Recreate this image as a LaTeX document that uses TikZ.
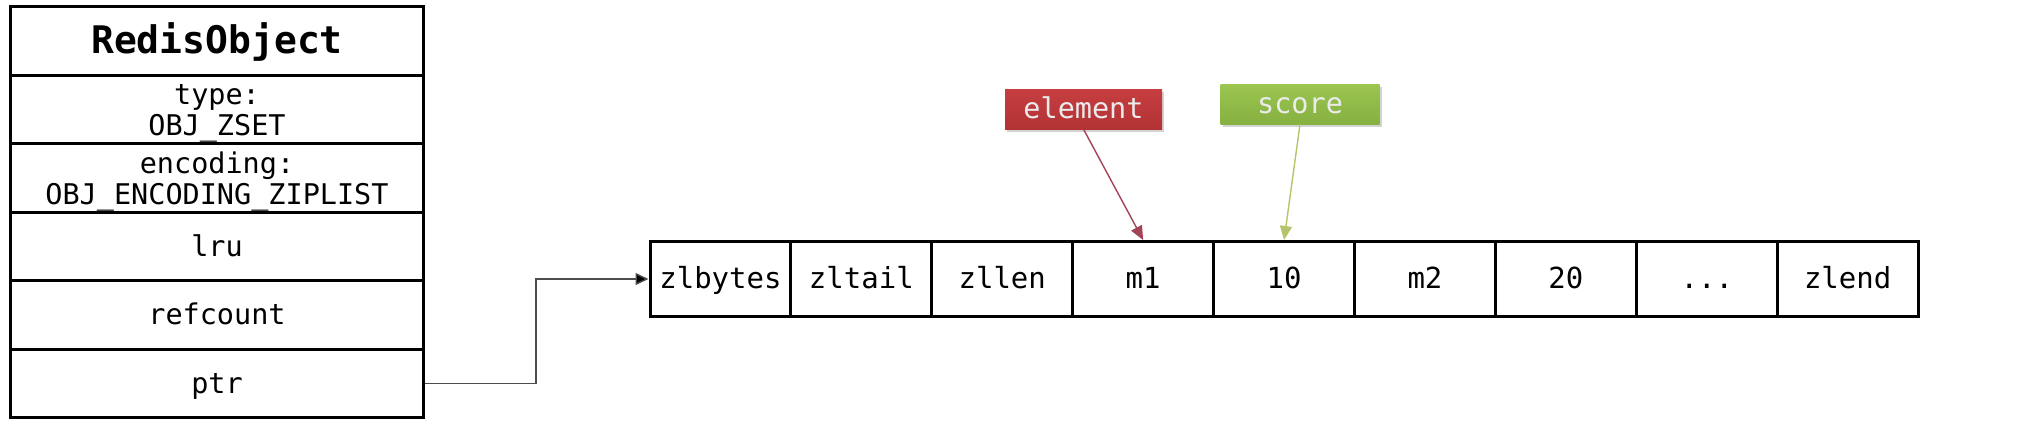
\documentclass[tikz,border=0pt]{standalone}
\usepackage{fontspec}
\setmonofont{DejaVu Sans Mono}
\usetikzlibrary{arrows.meta,shadows}
\definecolor{elred}{HTML}{B33234}
\definecolor{elredtop}{HTML}{C63E40}
\definecolor{scgreen}{HTML}{86B040}
\definecolor{scgreentop}{HTML}{9CC650}
\definecolor{elline}{HTML}{A34358}
\definecolor{scline}{HTML}{B5C46A}
\tikzset{
  tfont/.style={font=\ttfamily\fontsize{28.5}{31}\selectfont},
  tcell/.style={draw=black, line width=3pt, minimum width=413.3pt, minimum height=68.5pt, inner sep=0pt, align=center, tfont},
  ttext/.style={inner sep=0pt, align=center, tfont},
  tline/.style={tcell, text height=23pt, text depth=3pt},
  ttitle/.style={tcell, text height=30pt, text depth=5pt, font=\ttfamily\bfseries\fontsize{38}{42}\selectfont},
  zcell/.style={draw=black, line width=3pt, minimum width=140.9pt, minimum height=74.9pt, inner sep=0pt, text height=22pt, text depth=4pt, font=\ttfamily\fontsize{29}{33}\selectfont},
  tag/.style={minimum height=40pt, inner sep=0pt, text=white!92!black, text height=22pt, text depth=3pt, font=\ttfamily\fontsize{28.5}{31}\selectfont, drop shadow={shadow xshift=2pt, shadow yshift=-3pt, opacity=0.35, fill=gray}},
  ptrline/.style={draw=black!70, line width=1.4pt, -{Triangle[length=13pt,width=12pt,fill=black]}},
  elarrow/.style={draw=elline, line width=1.4pt, -{Triangle[length=14pt,width=12pt]}},
  scarrow/.style={draw=scline, line width=1.4pt, -{Triangle[length=14pt,width=12pt]}}
}
\begin{document}
\begin{tikzpicture}[x=1pt,y=-1pt]
\useasboundingbox (0,0) rectangle (2025,428);
% RedisObject table
\node[ttitle] (t0) at (217,40.75) {RedisObject};
\node[tcell] (t1) at (217,109.25) {};
\node[ttext] (t1txt) at ([yshift=-4pt]t1.center) {type:\\OBJ\_ZSET};
\node[tcell] (t2) at (217,177.75) {};
\node[ttext] (t2txt) at ([yshift=-4pt]t2.center) {encoding:\\OBJ\_ENCODING\_ZIPLIST};
\node[tline] (t3) at (217,246.25) {lru};
\node[tline] (t4) at (217,314.75) {refcount};
\node[tline] (t5) at (217,383.25) {ptr};
% ziplist
\node[zcell] (z1) at ({650+0.5*140.9},279) {zlbytes};
\node[zcell] (z2) at ({650+1.5*140.9},279) {zltail};
\node[zcell] (z3) at ({650+2.5*140.9},279) {zllen};
\node[zcell] (z4) at ({650+3.5*140.9},279) {m1};
\node[zcell] (z5) at ({650+4.5*140.9},279) {10};
\node[zcell] (z6) at ({650+5.5*140.9},279) {m2};
\node[zcell] (z7) at ({650+6.5*140.9},279) {20};
\node[zcell] (z8) at ({650+7.5*140.9},279) {{.}{.}{.}};
\node[zcell] (z9) at ({650+8.5*140.9},279) {zlend};
% connector
\coordinate (bend) at (536,279);
\draw[ptrline] (t5.east) -| (bend) -- (z1.west);
% tags
\node[tag, minimum width=157pt, top color=elredtop, bottom color=elred] (element) at (1083.5,109) {element};
\node[tag, minimum width=159pt, top color=scgreentop, bottom color=scgreen] (score) at (1300,104) {score};
\draw[elarrow] (element.south) -- (z4.north);
\draw[scarrow] (score.south) -- (z5.north);
\end{tikzpicture}
\end{document}
